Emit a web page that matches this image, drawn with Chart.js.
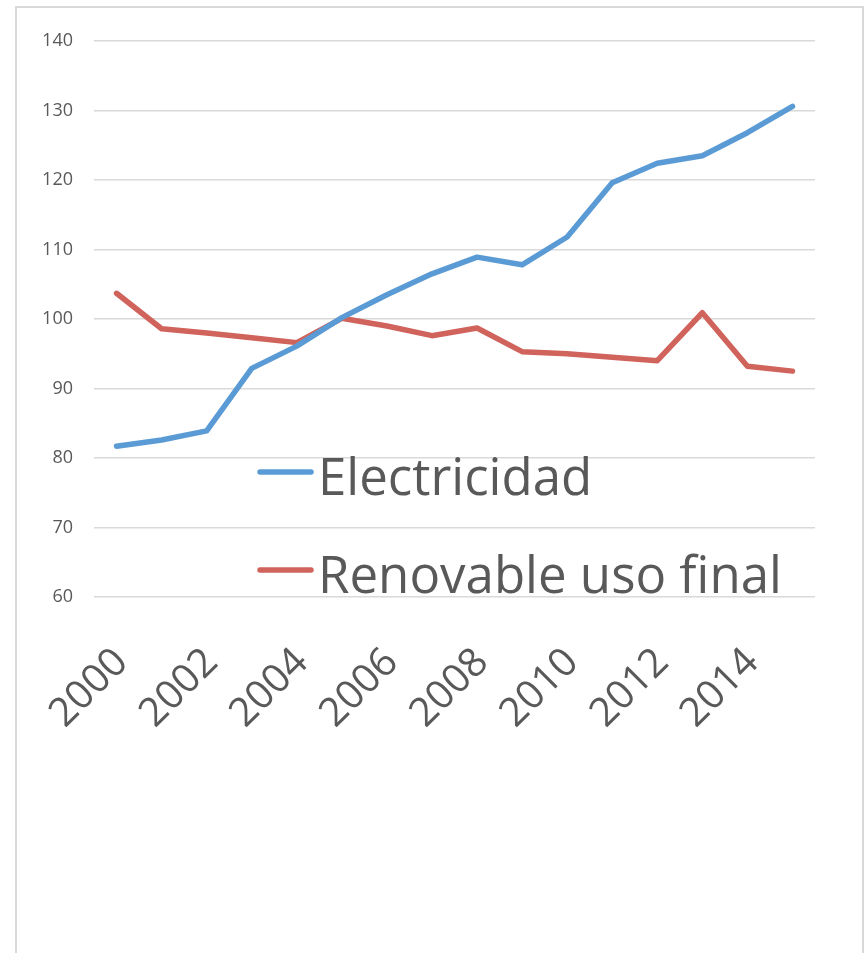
<!DOCTYPE html>
<html>
<head>
<meta charset="utf-8">
<script src="https://cdn.jsdelivr.net/npm/chart.js@4.4.1/dist/chart.umd.min.js"></script>
<style>
  html, body { margin: 0; padding: 0; background: #fff; overflow: hidden; }
  #frame {
    position: absolute; left: 15px; top: 6px; width: 849px; height: 1000px;
    border: 2px solid #d9d9d9; box-sizing: border-box;
  }
  #chart { position: absolute; left: 0; top: 0; }
</style>
</head>
<body>
<div id="frame"></div>
<canvas id="chart" width="868" height="953"></canvas>
<script>
// datos
const years = ["2000", "2001", "2002", "2003", "2004", "2005", "2006", "2007",
  "2008", "2009", "2010", "2011", "2012", "2013", "2014", "2015"]
const electricidad = [81.7, 82.6, 83.9, 92.9, 96.1, 100.2, 103.5, 106.5,
  108.9, 107.8, 111.8, 119.6, 122.4, 123.5, 126.8, 130.6]
const renovable = [103.7, 98.6, 98.0, 97.3, 96.6, 100.1, 99.0, 97.6,
  98.7, 95.3, 95.0, 94.5, 94.0, 100.9, 93.2, 92.5]
const yMin = 60
const yMax = 140
const yStep = 10

const textColor = "#595959"

// leyenda dibujada dentro del area del grafico, como en el original
const legendInside = {
  id: "legendInside",
  afterDatasetsDraw(chart) {
    const ctx = chart.ctx
    const rows = [472, 570]
    ctx.save()
    chart.data.datasets.forEach((ds, i) => {
      const y = rows[i]
      ctx.strokeStyle = ds.borderColor
      ctx.lineWidth = 5.5
      ctx.lineCap = "round"
      ctx.beginPath()
      ctx.moveTo(260, y)
      ctx.lineTo(311, y)
      ctx.stroke()
      ctx.fillStyle = textColor
      ctx.font = "51px 'Open Sans'"
      ctx.textBaseline = "alphabetic"
      ctx.textAlign = "left"
      ctx.fillText(ds.label, 318, y + 23)
    })
    ctx.restore()
  },
}

new Chart(document.getElementById("chart"), {
  type: "line",
  data: {
    labels: years,
    datasets: [
      {
        label: "Electricidad",
        data: electricidad,
        borderColor: "#5b9bd5",
        borderWidth: 5.5,
        pointRadius: 0,
        borderCapStyle: "round",
        borderJoinStyle: "round",
        tension: 0,
      },
      {
        label: "Renovable uso final",
        data: renovable,
        borderColor: "#d0635b",
        borderWidth: 5.5,
        pointRadius: 0,
        borderCapStyle: "round",
        borderJoinStyle: "round",
        tension: 0,
      },
    ],
  },
  options: {
    responsive: false,
    animation: false,
    layout: { padding: { left: 0, top: 41, right: 53, bottom: 0 } },
    plugins: {
      legend: { display: false },
      tooltip: { enabled: false },
    },
    scales: {
      x: {
        offset: true,
        grid: { display: false },
        border: { display: false },
        ticks: {
          autoSkip: false,
          minRotation: 45,
          maxRotation: 45,
          padding: 34,
          labelOffset: 5,
          color: textColor,
          font: { family: "Open Sans", size: 40 },
          callback: function (value, index) {
            return index % 2 === 0 ? this.getLabelForValue(value) : null
          },
        },
        afterFit(scale) {
          scale.height = 356
        },
      },
      y: {
        min: yMin,
        max: yMax,
        grid: { color: "#d9d9d9", lineWidth: 1.5, drawTicks: false, tickLength: 0 },
        border: { display: false },
        ticks: {
          stepSize: yStep,
          padding: 21,
          color: textColor,
          font: { family: "Open Sans", size: 18 },
        },
        afterFit(scale) {
          scale.width = 94
        },
      },
    },
  },
  plugins: [legendInside],
})
</script>
</body>
</html>
